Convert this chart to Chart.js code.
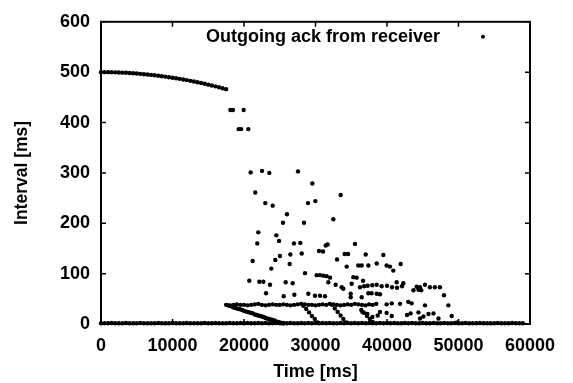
<!DOCTYPE html>
<html><head><meta charset="utf-8">
<script src="https://cdn.jsdelivr.net/npm/chart.js@4/dist/chart.umd.min.js"></script>
<style>html,body{margin:0;padding:0;background:#fff}#wrap{width:573px;height:383px}</style>
</head><body><div id="wrap"><canvas id="c" width="573" height="383"></canvas></div>
<script>
// ---- data ----
const seriesLabel = "Outgoing ack from receiver";
const xTitle = "Time [ms]";
const yTitle = "Interval [ms]";
const xTickValues = [0, 10000, 20000, 30000, 40000, 50000, 60000];
const yTickValues = [0, 100, 200, 300, 400, 500, 600];

// upper slowly decaying interval curve
const curveT = [0,500,1000,1500,2000,2500,3000,3500,4000,4500,5000,5500,6000,6500,7000,7500,8000,8500,9000,9500,
  10000,10500,11000,11500,12000,12500,13000,13500,14000,14500,15000,15500,16000,16500,17000,17500];
const curveV = [500,500,500,499.8,499.6,499.3,499,498.7,498.2,497.8,497.3,496.7,496,495.4,494.6,493.8,493,492,491.1,490,
  489,487.9,486.7,485.5,484.2,482.8,481.4,480,478.4,476.9,475.2,473.6,471.8,470,468.2,466.3];

// dense points lying on the time axis
const baseT = [0,500,1000,1500,2000,2500,3000,3500,4000,4500,
  5000,5500,6000,6500,7000,7500,8000,8500,9000,9500,
  10000,10500,11000,11500,12000,12500,13000,13500,14000,14500,
  15000,15500,16000,16500,17000,17500,18000,18500,19000,19500,
  20000,20500,21000,21500,22000,22500,23000,23500,24000,24500,
  25000,25500,26000,26500,27000,27500,28000,28500,29000,29500,
  30000,30500,31000,31500,32000,32500,33000,33500,34000,34500,
  35000,35500,36000,36500,37000,37500,38000,38500,39000,39500,
  40000,40500,41000,41500,42000,42500,43000,43500,44000,44500,
  45000,45500,46000,46500,47000,47500,48000,48500,49000,49500,
  50000,50500,51000,51500,52000,52500,53000,53500,54000,54500,
  55000,55500,56000,56500,57000,57500,58000,58500,59000];
const baseV = [1.5,1.5,1.5,2,1.5,1.5,1.5,2,1.5,1.5,
  1.5,2,1.5,1.5,1.5,1.5,2,1.5,1.5,1.5,
  2,1.5,1.5,1.5,2,1.5,1.5,1.5,1.5,2,
  1.5,1.5,2,1.5,1.5,1.5,2,1.5,1.5,2,
  1.5,2,1.5,1.5,2,1.5,2,1.5,1.5,2,
  1.5,2,1.5,2,1.5,1.5,2,1.5,2,1.5,
  2,1.5,2,1.5,2,1.5,1.5,2,1.5,2,
  1.5,2,1.5,2,1.5,2,1.5,1.5,2,1.5,
  2,1.5,2,1.5,1.5,2,1.5,2,1.5,1.5,
  2,1.5,1.5,2,1.5,1.5,2,1.5,1.5,2,
  1.5,1.5,2,1.5,1.5,1.5,2,1.5,1.5,1.5,
  1.5,2,1.5,1.5,1.5,2,1.5,1.5,1.5];

// band of points near 40 ms
const ridgeT = [17500,18000,18500,19000,19500,20000,20500,21000,21500,22000,
  22500,23000,23500,24000,24500,25000,25500,26000,26500,27000,
  27500,28000,28500,29000,29500,30000,30500,31000,31500,32000,
  32500,33000,33500,34000,34500,35000,35500,36000,36500,37000,
  37500,38000,38500];
const ridgeV = [38,37,38,39,38,38,37,38,39,40,
  38,37,38,39,38,38,39,38,37,38,
  39,40,39,38,38,37,38,39,38,40,
  39,38,37,38,39,38,40,39,38,37,
  39,38,40];

// points falling from the 40 ms band toward zero
const fallT = [17750,18000,18250,18500,18750,19000,19250,19500,19750,20000,
  20250,20500,20750,21000,21250,21500,21750,22000,22250,22500,
  22750,23000,23250,23500,23750,24000,24250,24500,24750,25000,25250,25500,
  28300,28700,29100,29500,29900,30300,
  32300,32700,33100,33500,33900,34300,
  36400,36800,37200,37600,38000];
const fallV = [37,36,35,33,32,31,30,29,28,26,
  25,24,23,22,21,19,18,17,16,15,
  14,12,11,10,9,8,7,5,4,3,2,1,
  36,30,23,16,10,3,
  38,31,24,17,10,3,
  28,22,16,10,4];

// scattered points
const scatT = [18100,18450,19950,19250,19600,20600,
  20930,22520,23540,27550,29560,33520,
  21580,22980,24010,28950,29980,
  26010,25450,28390,32490,
  22000,21860,24520,24900,26990,27880,31430,31700,35520,
  21210,24380,25030,26480,28070,30490,31050,34080,34550,37020,33010,
  23820,26390,28530,34360,35990,36460,37390,38560,
  20740,22140,22700,23640,25830,26810,
  30170,30640,31100,31570,32030,
  31790,32820,33890,33660,35290,35760,35060,36220,
  36800,37300,37950,38560,
  23080,25550,27040,29000,
  29930,30630,31330,
  34920,34920,36460,
  37390,37850,38560,
  39490,39950,40420,41910,40880,
  36650,39250,39020,
  40000,40700,41400,42100,
  44150,44620,45310,46000,46700,47400,
  41350,42280,
  43700,44400,44800,
  47970,48580,49050,49830,
  39950,40660,41820,42980,43450,45310,
  36560,37260,37960,38700,39020,39950,40660,42800,43300,44400,45100,45800,46500,44620,47200];
const scatV = [425,425,425,387,387,387,
  301,304,300,303,279,256,
  261,240,235,240,244,
  218,201,201,208,
  182,160,176,165,160,161,156,158,159,
  125,127,135,138,140,145,144,139,139,138,128,
  110,119,101,114,116,116,116,120,
  86,84,84,78,83,81,
  97,97,96,95,92,
  83,78,70,73,93,92,80,73,
  75,76,77,78,
  61,55,58,60,
  56,56,55,
  60,53,53,
  61,61,60,
  137,116,114,119,106,
  86,75,59,
  76,73,72,75,
  74,73,78,73,73,73,
  83,81,
  67,68,67,
  57,37,16,3,
  39,41,40,44,41,37,
  24,20,14,17,24,22,16,18,21,23,15,20,21,11,11];

// ---- chart ----
const pts = (T, V) => T.map((t, i) => ({x: t, y: V[i]}));
const FONT = '"Liberation Sans", Arial, Helvetica, sans-serif';
const style = {pointRadius: 2.2, pointHoverRadius: 2.2, pointStyle: 'circle', backgroundColor: '#000', borderColor: '#000', borderWidth: 0, showLine: false, clip: false};

const framePlugin = {
  id: 'frame',
  afterDatasetsDraw(chart) {
    const {ctx, chartArea: a, scales: {x, y}} = chart;
    ctx.save();
    ctx.strokeStyle = '#000';
    ctx.lineWidth = 2;
    ctx.strokeRect(a.left, a.top, a.right - a.left, a.bottom - a.top);
    ctx.lineWidth = 1.5;
    ctx.beginPath();
    xTickValues.forEach(v => {
      const px = x.getPixelForValue(v);
      ctx.moveTo(px, a.bottom); ctx.lineTo(px, a.bottom - 5);
      ctx.moveTo(px, a.top); ctx.lineTo(px, a.top + 5);
    });
    yTickValues.forEach(v => {
      const py = y.getPixelForValue(v);
      ctx.moveTo(a.left, py); ctx.lineTo(a.left + 5, py);
      ctx.moveTo(a.right, py); ctx.lineTo(a.right - 5, py);
    });
    ctx.stroke();
    // gnuplot-style key: text right-aligned, then sample point
    ctx.fillStyle = '#000';
    ctx.font = 'bold 18px ' + FONT;
    ctx.textAlign = 'right';
    ctx.textBaseline = 'alphabetic';
    ctx.fillText(seriesLabel, a.right - 90, a.top + 20);
    ctx.beginPath();
    ctx.arc(a.right - 47, a.top + 15, 2, 0, Math.PI * 2);
    ctx.fill();
    ctx.restore();
  }
};

new Chart(document.getElementById('c'), {
  type: 'scatter',
  data: {
    datasets: [
      Object.assign({label: seriesLabel, data: pts(curveT, curveV)}, style),
      Object.assign({label: seriesLabel, data: pts(baseT, baseV)}, style),
      Object.assign({label: seriesLabel, data: pts(ridgeT, ridgeV)}, style),
      Object.assign({label: seriesLabel, data: pts(fallT, fallV)}, style),
      Object.assign({label: seriesLabel, data: pts(scatT, scatV)}, style)
    ]
  },
  options: {
    responsive: false,
    animation: false,
    devicePixelRatio: 1,
    layout: {padding: {left: 0, right: 43, top: 18, bottom: 0}},
    plugins: {legend: {display: false}, tooltip: {enabled: false}},
    scales: {
      x: {
        type: 'linear', min: 0, max: 60000,
        afterBuildTicks: s => { s.ticks = xTickValues.map(v => ({value: v})); },
        afterFit: s => { s.height = 59; },
        grid: {display: false, drawTicks: false},
        border: {display: false},
        ticks: {color: '#000', padding: 11, maxRotation: 0, font: {family: FONT, size: 18, weight: 'bold'}, callback: v => String(v)},
        title: {display: true, text: xTitle, color: '#000', padding: {top: 0, bottom: 0}, font: {family: FONT, size: 18, weight: 'bold'}}
      },
      y: {
        type: 'linear', min: 0, max: 600,
        afterBuildTicks: s => { s.ticks = yTickValues.map(v => ({value: v})); },
        afterFit: s => { s.width = 101; },
        grid: {display: false, drawTicks: false},
        border: {display: false},
        ticks: {color: '#000', padding: 11, font: {family: FONT, size: 18, weight: 'bold'}, callback: v => String(v)},
        title: {display: true, text: yTitle, color: '#000', padding: {top: 12, bottom: 0}, font: {family: FONT, size: 17.5, weight: 'bold'}}
      }
    }
  },
  plugins: [framePlugin]
});
</script>
</body></html>
